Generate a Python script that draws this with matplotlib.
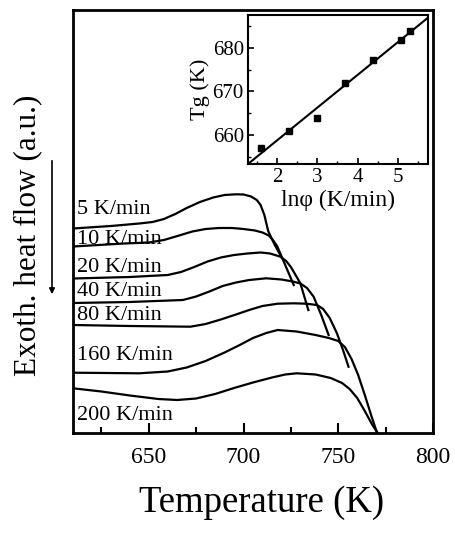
import numpy as np
import matplotlib
matplotlib.use("Agg")
import matplotlib.pyplot as plt

plt.rcParams["font.family"] = ["Liberation Serif", "DejaVu Serif"]

# DSC traces: temperature (K) and heat flow (a.u.)
t_5 = [610, 630, 645, 652, 658, 664, 670, 677, 684, 690, 696, 700, 704, 707, 709, 711, 713, 716.5, 720.3]
h_5 = [204.5, 207, 209.5, 211, 214, 219, 225, 231, 235.5, 238, 238.7, 238.5, 236.5, 233, 228, 218, 202, 188, 175]
t_10 = [610, 637, 650, 658, 666, 673, 680, 687, 694, 700, 706, 710, 713.3, 715.5, 717.7, 722, 726.5]
h_10 = [186.5, 189.5, 190.5, 193, 197.5, 201.5, 204, 205, 205, 204, 202.5, 200.5, 197.5, 193, 187, 168, 148]
t_20 = [610, 640, 660, 667, 674, 681, 688, 695, 702, 709, 714, 719.5, 722.5, 725, 730, 734.2]
h_20 = [154.5, 156, 158, 161, 166, 171.5, 175.5, 178, 179.5, 180.5, 179.5, 176.3, 172, 166, 149.7, 123]
t_40 = [610, 640, 668, 675, 682, 689, 696, 703, 712, 720, 726.5, 730, 733.5, 737, 741, 744.9]
h_40 = [130, 131, 133, 136.5, 141.5, 147, 150.5, 153, 154.7, 153.5, 151.3, 149.5, 145, 136.3, 118, 98]
t_80 = [610, 640, 672, 680, 688, 696, 703, 710, 718, 726.5, 733, 738.8, 742, 745.5, 749.3, 752.5, 755.4]
h_80 = [108, 107, 106.3, 109, 113.5, 118.5, 123, 127, 129.3, 129.7, 129.3, 128, 124, 115, 99.7, 83, 66.3]
t_160 = [610, 645, 660, 670, 680, 690, 698, 705, 712, 718, 728, 738, 745, 750, 753.5, 757, 760.5, 764, 767.5, 771]
h_160 = [60.3, 59.7, 61.5, 65.5, 72, 80.5, 88, 95, 100, 103, 101.5, 98, 95, 92, 86, 74, 58, 38, 17, -3]
t_200 = [610, 625, 640, 655, 665, 675, 685, 695, 705, 715, 722, 728, 738, 746, 752, 756, 760, 764, 768, 772]
h_200 = [44.7, 41.5, 37.5, 34, 33, 34.5, 39, 45, 50.5, 55.5, 58.5, 59.7, 58.5, 55, 50, 44, 35, 22, 8, -3]

rate_labels = ["5 K/min", "10 K/min", "20 K/min", "40 K/min",
               "80 K/min", "160 K/min", "200 K/min"]
label_h = [223, 193, 166, 141, 118, 78, 18]

# inset: Tg against ln(heating rate)
ln_rate = [1.61, 2.30, 3.00, 3.69, 4.38, 5.08, 5.30]
tg = [657.0, 661.0, 663.8, 671.9, 677.2, 681.8, 684.0]

W, H = 456, 535
fig = plt.figure(figsize=(W / 100, H / 100), dpi=100)
ax = fig.add_axes([73 / W, 1 - 433 / H, 360 / W, 423 / H])

curves = [(t_5, h_5), (t_10, h_10), (t_20, h_20), (t_40, h_40),
          (t_80, h_80), (t_160, h_160), (t_200, h_200)]
for (t, h), lab, lh in zip(curves, rate_labels, label_h):
    ax.plot(t, h, color="black", lw=1.6)
    ax.text(612, lh, lab, fontsize=16, va="center", ha="left")

ax.set_xlim(610, 800)
ax.set_ylim(0, 423)
ax.set_xticks([650, 700, 750, 800])
ax.set_xticks([625, 675, 725, 775], minor=True)
ax.set_yticks([])
ax.tick_params(axis="x", direction="in", length=7, width=1.5, labelsize=17, pad=10)
ax.tick_params(axis="x", which="minor", direction="in", length=4, width=1.5)
for s in ax.spines.values():
    s.set_linewidth(2.0)

fig.text(262 / W, 1 - 503 / H, "Temperature (K)", fontsize=26.5, ha="center", va="center")
fig.text(28 / W, 1 - 235 / H, "Exoth. heat flow (a.u.)", fontsize=22.5,
         rotation=90, ha="center", va="center")
fig.add_artist(matplotlib.patches.FancyArrowPatch(
    (52 / W, 1 - 158 / H), (52 / W, 1 - 297 / H), transform=fig.transFigure,
    arrowstyle="-|>", mutation_scale=8, lw=1.2, color="black"))

# inset
ins = fig.add_axes([248 / W, 1 - 164 / H, 180 / W, 149 / H])
ins.plot(ln_rate, tg, "s", color="black", ms=5)
k, b = np.polyfit(ln_rate, tg, 1)
xx = np.array([1.28, 5.75])
ins.plot(xx, k * xx + b, color="black", lw=1.5)
ins.set_xlim(1.28, 5.75)
ins.set_ylim(653.3, 687.6)
ins.set_xticks([2, 3, 4, 5])
ins.set_xticks([1.5, 2.5, 3.5, 4.5, 5.5], minor=True)
ins.set_yticks([660, 670, 680])
ins.set_yticks([655, 665, 675, 685], minor=True)
ins.tick_params(direction="in", length=4, width=1.2, labelsize=15, pad=3)
ins.tick_params(which="minor", direction="in", length=2.5, width=1.0)
for s in ins.spines.values():
    s.set_linewidth(1.5)
ins.set_xlabel("ln\u03c6 (K/min)", fontsize=17, labelpad=2)
ins.set_ylabel("Tg (K)", fontsize=16, labelpad=2)

fig.savefig("out.png", dpi=100)
